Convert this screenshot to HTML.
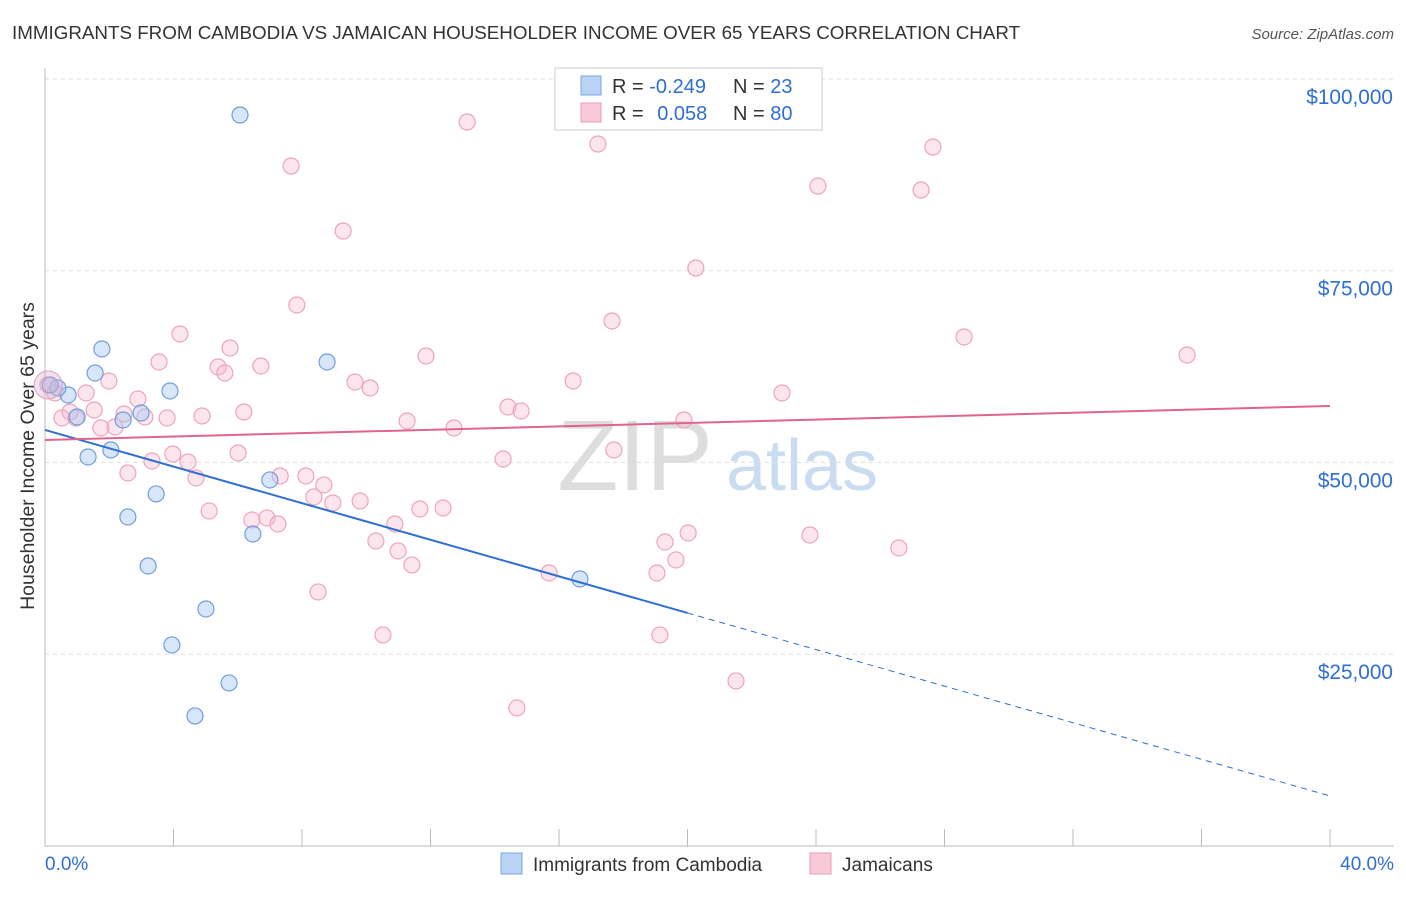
<!DOCTYPE html>
<html><head><meta charset="utf-8"><style>
body{margin:0;background:#fff;font-family:"Liberation Sans",sans-serif;}
svg text{font-family:"Liberation Sans",sans-serif;}
</style></head><body>
<svg id="chart" width="1406" height="892">
<text x="12" y="39" font-size="18.8" fill="#333">IMMIGRANTS FROM CAMBODIA VS JAMAICAN HOUSEHOLDER INCOME OVER 65 YEARS CORRELATION CHART</text>
<text x="1394" y="39" font-size="15" fill="#555" text-anchor="end" font-style="italic">Source: ZipAtlas.com</text>
<text x="635" y="490" font-size="100" fill="#ddd" text-anchor="middle" font-family="Liberation Serif">ZIP</text>
<text x="802" y="490" font-size="72" fill="#c9dcf0" text-anchor="middle">atlas</text>
<text transform="translate(34,456) rotate(-90)" font-size="19.5" fill="#333" text-anchor="middle">Householder Income Over 65 years</text>
<g id="grid"></g><g id="marks"></g>
<rect x="555" y="68" width="267" height="62" fill="#fff" stroke="#ccc"/>
<rect x="581" y="76" width="20" height="19" fill="#b8d3f5" stroke="#7aa6e0"/>
<rect x="581" y="103" width="20" height="19" fill="#f9c9d8" stroke="#ea9ab5"/>
<text x="612" y="93" font-size="20" fill="#333">R = <tspan fill="#2f6fd1">-0.249</tspan></text>
<text x="733" y="93" font-size="20" fill="#333">N = <tspan fill="#2f6fd1">23</tspan></text>
<text x="612" y="120" font-size="20" fill="#333">R = <tspan fill="#2f6fd1" dx="8">0.058</tspan></text>
<text x="733" y="120" font-size="20" fill="#333">N = <tspan fill="#2f6fd1">80</tspan></text>
<rect x="501" y="853" width="21" height="21" fill="#b8d3f5" stroke="#7aa6e0"/>
<text x="533" y="871" font-size="19" fill="#333">Immigrants from Cambodia</text>
<rect x="810" y="853" width="21" height="21" fill="#f9c9d8" stroke="#ea9ab5"/>
<text x="842" y="871" font-size="19" fill="#333">Jamaicans</text>
<text x="45" y="870" font-size="19" fill="#2f6fd1">0.0%</text>
<text x="1394" y="870" font-size="19" fill="#2f6fd1" text-anchor="end">40.0%</text>
</svg>
<script>
const yTicks=[100000,75000,50000,25000];
const yTickLabels=["$100,000","$75,000","$50,000","$25,000"];
const xTicks=[0,4,8,12,16,20,24,28,32,36,40];
const camX=[6.07,1.77,1.56,0.72,0.40,1.00,2.43,2.99,3.89,8.78,1.34,2.05,3.46,2.58,7.00,6.47,3.21,5.01,3.95,5.73,4.67,16.65,0.16];
const camY=[95306,64792,61662,58794,59706,55925,55534,56446,59315,63096,50709,51622,45885,42885,47710,40667,36493,30886,26192,21237,16934,34798,60098];
const jamX=[13.14,17.21,27.64,7.66,24.06,27.27,9.28,20.26,7.84,17.65,4.20,28.61,35.55,5.76,11.86,3.55,5.39,6.72,5.60,1.99,9.65,10.12,16.44,22.94,1.28,2.89,14.41,14.82,1.53,6.19,0.53,2.46,3.80,4.89,3.11,11.27,19.89,0.96,1.74,2.18,12.73,17.71,3.33,3.98,4.45,6.01,14.26,2.58,4.70,7.32,8.12,8.68,8.37,8.96,9.81,5.11,6.44,6.91,7.25,11.67,12.39,10.89,10.30,10.99,11.42,20.02,19.30,19.64,23.81,26.58,19.05,15.69,8.50,10.52,19.14,21.51,14.69,0.09,0.31,0.78];
const jamY=[94393,91524,91133,88655,86047,85526,80179,75354,70530,68443,66748,66357,64010,64922,63879,63096,62444,62575,61662,60619,60489,59706,60619,59054,59054,58272,57229,56707,56837,56576,55794,56316,55794,56055,55925,55403,55534,55794,54490,54621,54490,51622,50187,51100,50057,51230,50448,48622,47971,48231,48231,47058,45493,44710,44971,43667,42493,42754,41971,43927,44058,41971,39755,38451,36626,40797,39624,37277,40536,38841,35581,35581,33104,27496,27496,21498,17978,60098,59054,56576];
const camTrend=[54230,6503];
const jamTrend=[52926,57359];
const X=v=>45+v*(1330-45)/40, Y=v=>79+(100000-v)*191.7/25000;
const NS="http://www.w3.org/2000/svg";
function mk(p,t,a){const e=document.createElementNS(NS,t);for(const k in a)e.setAttribute(k,a[k]);p.appendChild(e);return e;}
const g=document.getElementById('grid'),m=document.getElementById('marks');
yTicks.forEach((v,i)=>{
 const l=mk(g,'line',{x1:45,x2:1394,y1:Y(v),y2:Y(v),stroke:'#ddd','stroke-dasharray':'4,4'});
 
 
 const t=mk(g,'text',{x:1393,y:Y(v)+25,'font-size':20.8,fill:'#2f6fd1','text-anchor':'end'});t.textContent=yTickLabels[i];
 
 
});
const ax=mk(g,'line',{x1:45,x2:1394,y1:846,y2:846,stroke:'#bbb'});


const ay=mk(g,'line',{x1:45,x2:45,y1:68,y2:846,stroke:'#bbb'});


xTicks.forEach(v=>{const t=mk(g,'line',{x1:X(v),x2:X(v),y1:829,y2:846,stroke:'#bbb'});
 
 });
jamX.forEach((x,i)=>{const c=mk(m,'circle',{cx:X(x),cy:Y(jamY[i]),r:8,fill:'rgba(246,180,202,0.35)',stroke:'#eea3bd','stroke-width':1.2});
 
 });
camX.forEach((x,i)=>{const c=mk(m,'circle',{cx:X(x),cy:Y(camY[i]),r:8,fill:'rgba(168,200,242,0.45)',stroke:'#6f9ede','stroke-width':1.2});
 
 });
const big=mk(m,'circle',{cx:X(0.1),cy:Y(60098),r:14,fill:'rgba(220,170,200,0.35)',stroke:'#d9a3c0'});


const cy=x=>camTrend[0]+(camTrend[1]-camTrend[0])*x/40;
const l1=mk(m,'line',{x1:X(0),y1:Y(cy(0)),x2:X(20),y2:Y(cy(20)),stroke:'#2d6fd2','stroke-width':2});


const l2=mk(m,'line',{x1:X(20),y1:Y(cy(20)),x2:X(40),y2:Y(cy(40)),stroke:'#2d6fd2','stroke-width':1,'stroke-dasharray':'6,5'});


const l3=mk(m,'line',{x1:X(0),y1:Y(jamTrend[0]),x2:X(40),y2:Y(jamTrend[1]),stroke:'#e0648e','stroke-width':2});


</script>
</body></html>
